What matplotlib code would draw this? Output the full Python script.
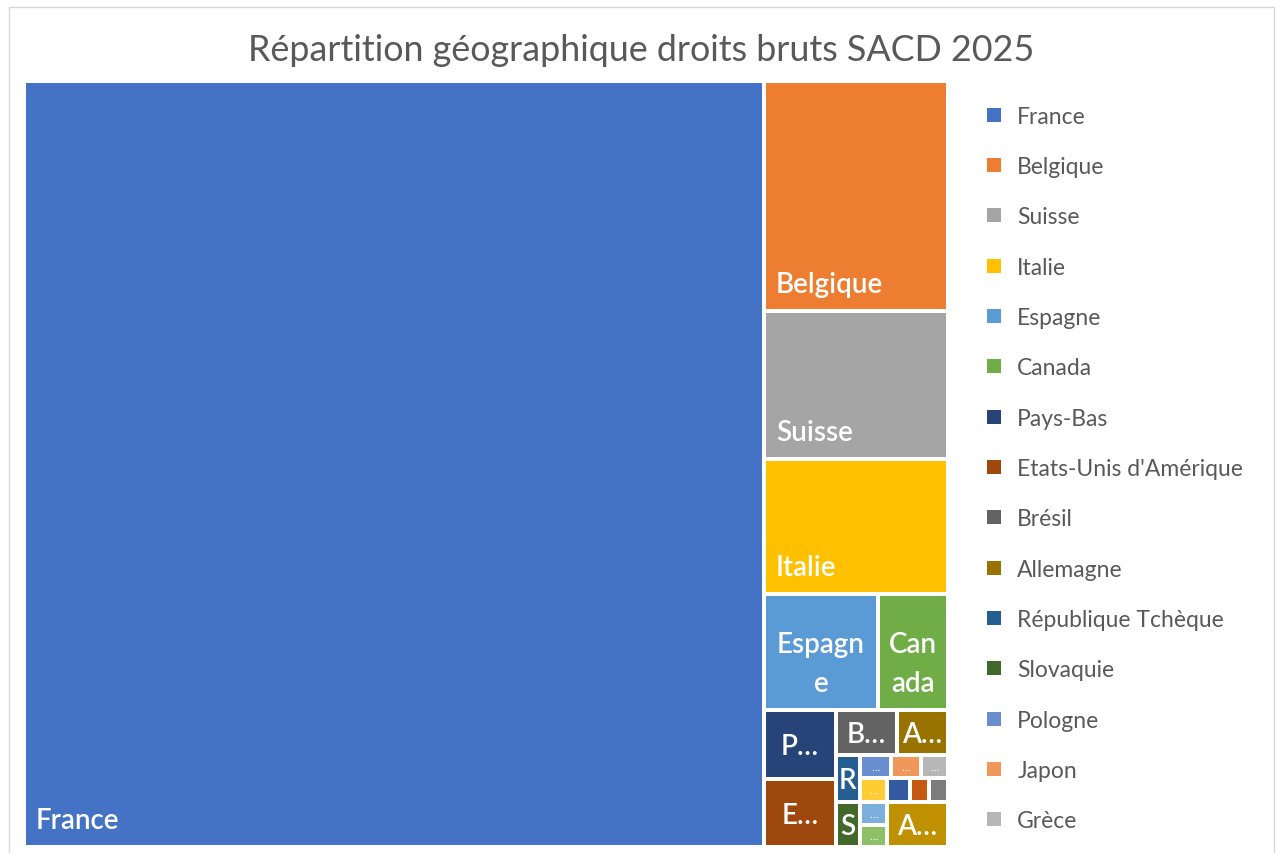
import matplotlib
matplotlib.use("Agg")
import matplotlib.pyplot as plt
from matplotlib.patches import Rectangle, Patch
from matplotlib.font_manager import FontProperties

# share of gross rights by country (%)
countries = ["France", "Belgique", "Suisse", "Italie", "Espagne", "Canada",
             "Pays-Bas", "Etats-Unis d'Amérique", "Brésil", "Allemagne",
             "République Tchèque", "Slovaquie", "Pologne", "Japon", "Grèce",
             "Luxembourg", "Portugal", "Autriche", "Royaume-Uni", "Roumanie",
             "Argentine", "Autres pays"]
shares = [80.087, 5.979, 3.847, 3.510, 1.868, 1.147,
          0.692, 0.692, 0.384, 0.324,
          0.164, 0.156, 0.104, 0.097, 0.091,
          0.090, 0.089, 0.084, 0.075, 0.065,
          0.063, 0.391]

# Excel office palette, in series order
colors = ["#4472C4", "#ED7D31", "#A5A5A5", "#FFC000", "#5B9BD5", "#70AD47",
          "#264478", "#9E480E", "#636363", "#997300", "#255E91", "#43682B",
          "#698ED0", "#F1975A", "#B7B7B7", "#FFCD33", "#7CAFDD", "#8CC168",
          "#335AA1", "#C55A11", "#7C7C7C", "#BF9000"]
legend_count = 15

title = "Répartition géographique droits bruts SACD 2025"

FONT = "Lato"
TEXT_GREY = "#595959"
GAP = 2          # half of the white gap between tiles (px)
TOL = 0.7        # a row only grows if it gets clearly squarer
LABEL_FS = 20


def worst(row, side):
    t = sum(row) / side
    return max(max(v / t / t, t * t / v) for v in row)


def squarify(values, x, y, w, h, tol=TOL):
    total = sum(values)
    scaled = [v * w * h / total for v in values]
    rects = []
    i = 0
    while i < len(scaled):
        side = min(w, h)
        row = [scaled[i]]
        i += 1
        while i < len(scaled) and worst(row + [scaled[i]], side) < tol * worst(row, side):
            row.append(scaled[i])
            i += 1
        t = sum(row) / side
        if w >= h:
            yy = y
            for v in row:
                rects.append((x, yy, t, v / t))
                yy += v / t
            x += t
            w -= t
        else:
            xx = x
            for v in row:
                rects.append((xx, y, v / t, t))
                xx += v / t
            y += t
            h -= t
    return rects


fig = plt.figure(figsize=(12.76, 8.54), dpi=100)
W, H = 924, 766
ax = fig.add_axes([24 / 1276, 6 / 854, W / 1276, H / 854])
ax.set_xlim(0, W)
ax.set_ylim(H, 0)
ax.axis("off")

renderer = fig.canvas.get_renderer()
prop = FontProperties(family=FONT, weight="semibold", size=LABEL_FS)
fs_px = LABEL_FS * fig.dpi / 72
pitch = 1.4 * fs_px
cap = 0.72 * fs_px


def width_of(s, p=prop):
    return renderer.get_text_width_height_descent(s, p, ismath=False)[0]


def wrap_chars(s, avail):
    lines, cur = [], ""
    for ch in s:
        if cur and width_of(cur + ch) > avail:
            lines.append(cur)
            cur = ch
        else:
            cur += ch
    lines.append(cur)
    return lines


def draw_label(name, x, y, w, h):
    kw = dict(color="white", fontproperties=prop, clip_on=True)
    avail = w - 16
    if width_of(name) <= avail and h >= pitch + 16:
        ax.text(x + 10, y + h - 17, name, ha="left", va="baseline", **kw)
        return
    lines = wrap_chars(name, avail)
    if len(lines) * pitch + 16 <= h and all(width_of(l) <= avail for l in lines):
        for k, line in enumerate(reversed(lines)):
            ax.text(x + w / 2, y + h - 17 - k * pitch, line,
                    ha="center", va="baseline", **kw)
        return
    if h >= cap + 12:
        for short in (name[0] + "\u2026", name[0]):
            if width_of(short) <= w - 1:
                ax.text(x + w / 2, y + h / 2 + cap / 2, short,
                        ha="center", va="baseline", **kw)
                return
    if w >= 20 and h >= 12:
        ax.text(x + w / 2, y + h / 2, "\u2026", ha="center", va="center",
                color="white", fontsize=8, family=FONT, clip_on=True)


for name, c, (x, y, w, h) in zip(countries, colors, squarify(shares, 0, 0, W, H)):
    ax.add_patch(Rectangle((x + GAP, y + GAP), w - 2 * GAP, h - 2 * GAP,
                           facecolor=c, edgecolor="none"))
    draw_label(name, x + GAP, y + GAP, w - 2 * GAP, h - 2 * GAP)

fig.text(0.5027, 1 - 61 / 854, title, ha="center", va="baseline",
         fontsize=25.8, color=TEXT_GREY, family=FONT)

handles = [Patch(facecolor=c, edgecolor="none") for c in colors[:legend_count]]
fig.legend(handles, countries[:legend_count], loc="upper left",
           bbox_to_anchor=(987 / 1276, 0.875), frameon=False,
           prop=FontProperties(family=FONT, size=16.5), labelcolor=TEXT_GREY,
           handlelength=0.6, handleheight=0.55, handletextpad=0.72,
           labelspacing=1.28, borderaxespad=0, borderpad=0)

fig.patches.append(Rectangle((9 / 1276, -0.05), 1265 / 1276, 1 - 8 / 854 + 0.05,
                             transform=fig.transFigure, fill=False,
                             edgecolor="#D9D9D9", lw=1))

fig.savefig("out.png", dpi=100)
